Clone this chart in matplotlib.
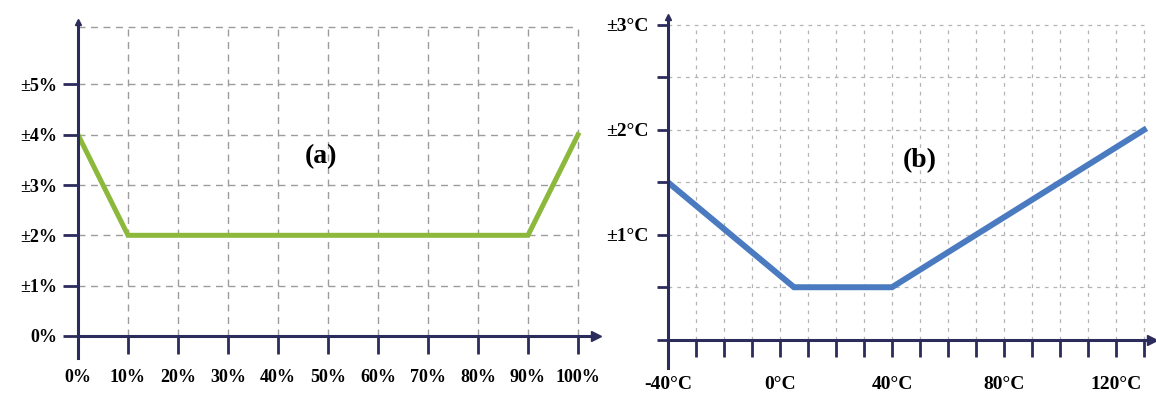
import matplotlib
matplotlib.use("Agg")
import matplotlib.pyplot as plt

# accuracy vs input (left) and accuracy vs temperature (right)
acc_x = [0, 10, 90, 100]
acc_y = [4, 2, 2, 4]
acc_xticks = [0, 10, 20, 30, 40, 50, 60, 70, 80, 90, 100]
acc_xlabels = ["0%", "10%", "20%", "30%", "40%", "50%", "60%", "70%", "80%", "90%", "100%"]
acc_yticks = [0, 1, 2, 3, 4, 5]
acc_ylabels = ["0%", "±1%", "±2%", "±3%", "±4%", "±5%"]

temp_x = [-40, 5, 40, 130]
temp_y = [1.5, 0.5, 0.5, 2.0]
temp_xticks = [-40, 0, 40, 80, 120]
temp_xlabels = ["-40°C", "0°C", "40°C", "80°C", "120°C"]
temp_yticks = [1, 2, 3]
temp_ylabels = ["±1°C", "±2°C", "±3°C"]

W, H = 1156, 407
AXIS = "#2b2b5c"
SERIF = ["Liberation Serif", "DejaVu Serif"]


def px_rect(left, top, right, bottom):
    return [left / W, 1 - bottom / H, (right - left) / W, (bottom - top) / H]


def setup_axes(ax, x0):
    # axis lines with arrow heads; bottom spine sits at y = 0
    for s in ("top", "right"):
        ax.spines[s].set_visible(False)
    ax.spines["bottom"].set_position(("data", 0))
    for s in ("left", "bottom"):
        ax.spines[s].set_color(AXIS)
        ax.spines[s].set_linewidth(2.2)
    ax.plot(1, 0, ">", color=AXIS, ms=7, transform=ax.get_yaxis_transform(), clip_on=False)
    ax.plot(x0, 1, "^", color=AXIS, ms=5, transform=ax.get_xaxis_transform(), clip_on=False)


def style_labels(ax, size=13):
    for lab in ax.get_xticklabels() + ax.get_yticklabels():
        lab.set_family(SERIF)
        lab.set_fontweight("bold")
        lab.set_fontsize(size)


fig = plt.figure(figsize=(W / 100, H / 100), dpi=100)

# ---- (a) ----
ax1 = fig.add_axes(px_rect(78, 21.6, 595.5, 358))
ax1.set_xlim(0, 103.5)
ax1.set_ylim(-0.44, 6.25)
setup_axes(ax1, 0)
ax1.vlines(acc_xticks[1:], 0, 6.15, colors="#9c9c9c", linestyles=(0, (5, 4)), lw=1)
ax1.hlines(acc_yticks[1:] + [6.15], 0, 100, colors="#9c9c9c", linestyles=(0, (5, 4)), lw=1)
ax1.plot(acc_x, acc_y, color="#8cb83c", lw=3.6, solid_joinstyle="miter")
ax1.set_xticks(acc_xticks)
ax1.set_xticklabels(acc_xlabels)
ax1.set_yticks(acc_yticks)
ax1.set_yticklabels(acc_ylabels)
ax1.tick_params(axis="x", direction="out", length=13, width=2, color=AXIS, pad=11)
ax1.tick_params(axis="y", direction="out", length=11, width=2, color=AXIS, pad=4)
style_labels(ax1, 13)
ax1.text(0.47, 0.60, "(a)", transform=ax1.transAxes, fontsize=20, fontweight="bold",
         family=SERIF, ha="center", va="center")

# ---- (b) ----
ax2 = fig.add_axes(px_rect(668, 16.6, 1152.4, 368))
ax2.set_xlim(-40, 133)
ax2.set_ylim(-0.27, 3.08)
setup_axes(ax2, -40)
ax2.vlines(range(-30, 131, 10), 0, 3, colors="#b4b4b4", linestyles=(0, (3, 4)), lw=0.9)
ax2.hlines([0.5, 1, 1.5, 2, 2.5, 3], -40, 130, colors="#b4b4b4", linestyles=(0, (3, 4)), lw=0.9)
ax2.plot(temp_x, temp_y, color="#4a7bc0", lw=4.3, solid_joinstyle="miter")
ax2.set_xticks(temp_xticks)
ax2.set_xticklabels(temp_xlabels)
ax2.set_xticks(range(-30, 131, 10), minor=True)
ax2.set_yticks(temp_yticks)
ax2.set_yticklabels(temp_ylabels)
ax2.set_yticks([0, 0.5, 1.5, 2.5], minor=True)
ax2.tick_params(axis="x", which="both", direction="out", length=12, width=2, color=AXIS, pad=14)
ax2.tick_params(axis="y", which="both", direction="out", length=8, width=2, color=AXIS, pad=6)
style_labels(ax2, 14)
ax2.text(0.52, 0.59, "(b)", transform=ax2.transAxes, fontsize=20, fontweight="bold",
         family=SERIF, ha="center", va="center")

fig.savefig("out.png", dpi=100)
